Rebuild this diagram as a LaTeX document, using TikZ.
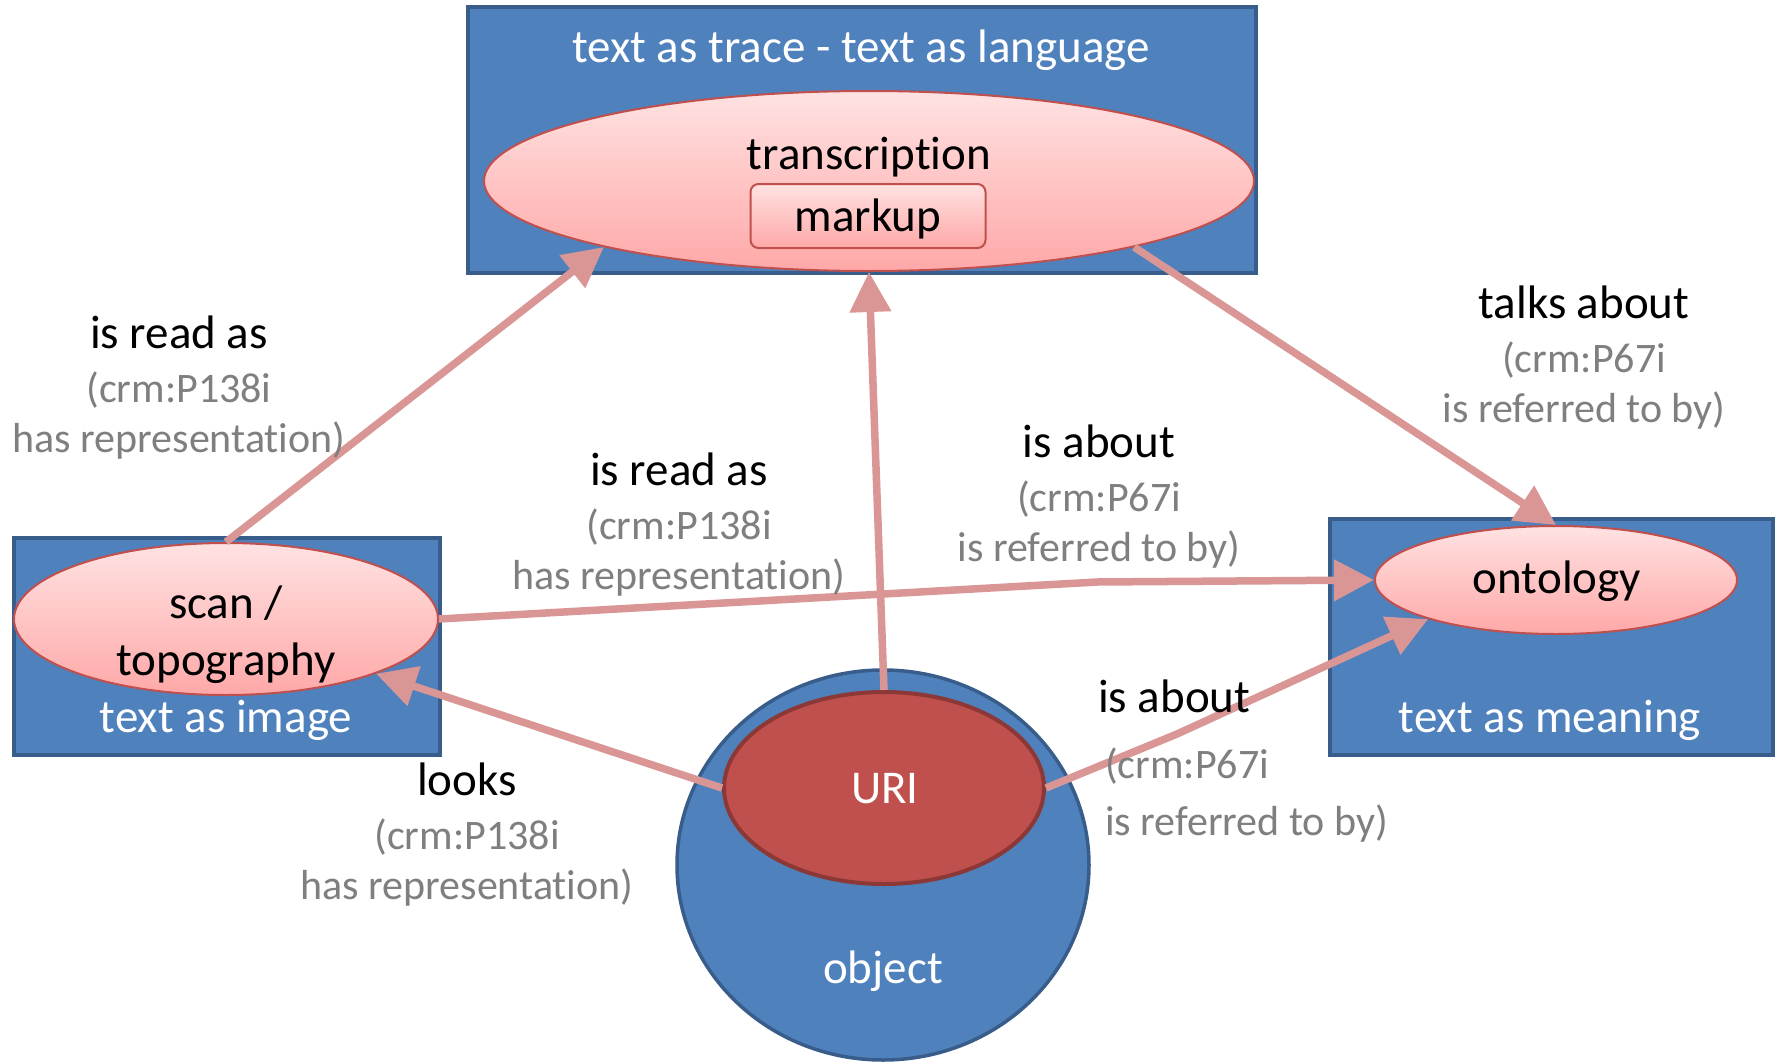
\documentclass[tikz,border=0pt]{standalone}
\usepackage{fontspec}
\setmainfont{Carlito}[Ligatures=NoCommon,RawFeature={-liga;-clig;-calt}]
\usetikzlibrary{arrows.meta,shapes.geometric}
\definecolor{boxblue}{HTML}{4F81BD}
\definecolor{boxborder}{HTML}{385D8A}
\definecolor{pinktop}{HTML}{FFE2E2}
\definecolor{pinkbot}{HTML}{FFA8A8}
\definecolor{pinkborder}{HTML}{C0504D}
\definecolor{urifill}{HTML}{C0504D}
\definecolor{uriborder}{HTML}{8C3836}
\definecolor{arrowc}{HTML}{D99694}
\definecolor{graytext}{HTML}{7F7F7F}
\tikzset{
  bluebox/.style={draw=boxborder, fill=boxblue, line width=3.5pt, inner sep=0pt},
  pinkell/.style={ellipse, draw=pinkborder, line width=2pt, top color=pinktop, bottom color=pinkbot, inner sep=0pt},
  pinkrect/.style={rectangle, rounded corners=8pt, draw=pinkborder, line width=2pt, top color=pinktop, bottom color=pinkbot, inner sep=0pt},
  lbl/.style={font=\fontsize{47}{56}\selectfont, anchor=base, inner sep=0pt},
  sublbl/.style={font=\fontsize{42}{50}\selectfont, text=graytext, anchor=base, inner sep=0pt},
  wtxt/.style={font=\fontsize{47}{56}\selectfont, text=white, anchor=base, inner sep=0pt},
  btxt/.style={font=\fontsize{47}{56}\selectfont, text=black, anchor=base, inner sep=0pt},
  arr/.style={draw=arrowc, line width=7.5pt, -{Triangle[length=40pt,width=40pt]}},
}
\begin{document}
\begin{tikzpicture}[x=1pt,y=-1pt]
\clip (0,0) rectangle (1781,1063);
\fill[white] (0,0) rectangle (1781,1063);

% boxes
\node[bluebox, minimum width=788pt, minimum height=266pt] (tracebox) at (862,140) {};
\node[bluebox, minimum width=426pt, minimum height=217pt] (imagebox) at (227,646.5) {};
\node[bluebox, minimum width=443pt, minimum height=236pt] (meaningbox) at (1551.5,637) {};
\node[ellipse, draw=boxborder, fill=boxblue, line width=3.5pt, minimum width=412pt, minimum height=390pt, inner sep=0pt] (object) at (883,865) {};

% box titles
\node[wtxt] (ttrace) at (861,62) {text as trace - text as language};
\node[wtxt] (timage) at (226,732) {text as image};
\node[wtxt] (tmeaning) at (1550,732) {text as meaning};
\node[wtxt] (tobject) at (883,983) {object};

% ellipses
\node[pinkell, minimum width=770pt, minimum height=180pt] (T) at (869,181) {};
\node[pinkrect, minimum width=235pt, minimum height=64pt] (markup) at (868,216) {};
\node[pinkell, minimum width=424pt, minimum height=152pt] (S) at (226,619) {};
\node[pinkell, minimum width=362pt, minimum height=108pt] (O) at (1556,580) {};
\node[ellipse, draw=uriborder, fill=urifill, line width=4pt, minimum width=320pt, minimum height=192pt, inner sep=0pt] (U) at (884,788) {};

% ellipse texts
\node[btxt] (ttrans) at (869,169) {transcription};
\node[btxt] (tmarkup) at (868,231) {markup};
\node[btxt] (tscan1) at (226,618) {scan /};
\node[btxt] (tscan2) at (226,675) {topography};
\node[btxt] (tonto) at (1557,593) {ontology};
\node[wtxt] (turi) at (885,803) {URI};

% connector bends
\coordinate (k1) at (1097,582);
\coordinate (k2) at (1177,734);

% arrows
\draw[arr] (S.90) -- (T.194);
\draw[arr] (U.90) -- (T.270);
\draw[arr] (T.346) -- (O.90);
\draw[arr] (S.0) -- (k1) -- (O.180);
\draw[arr] (U.180) -- (S.340);
\draw[arr] (U.0) -- (k2) -- (O.197);

% labels
\node[lbl] (l1a) at (179,348) {is read as};
\node[sublbl] (l1b) at (179,402) {(crm:P138i};
\node[sublbl] (l1c) at (179,452) {has representation)};

\node[lbl] (l2a) at (679,485) {is read as};
\node[sublbl] (l2b) at (679,539) {(crm:P138i};
\node[sublbl] (l2c) at (679,589) {has representation)};

\node[lbl] (l3a) at (1099,457) {is about};
\node[sublbl] (l3b) at (1099,511) {(crm:P67i};
\node[sublbl] (l3c) at (1099,561) {is referred to by)};

\node[lbl] (l4a) at (1584,318) {talks about};
\node[sublbl] (l4b) at (1584,372) {(crm:P67i};
\node[sublbl] (l4c) at (1584,422) {is referred to by)};

\node[lbl] (l5a) at (467,795) {looks};
\node[sublbl] (l5b) at (467,849) {(crm:P138i};
\node[sublbl] (l5c) at (467,899) {has representation)};

\node[lbl, anchor=base west] (l6a) at (1098,712) {is about};
\node[sublbl, anchor=base west] (l6b) at (1105,778) {(crm:P67i};
\node[sublbl, anchor=base west] (l6c) at (1105,835) {is referred to by)};
\end{tikzpicture}
\end{document}
